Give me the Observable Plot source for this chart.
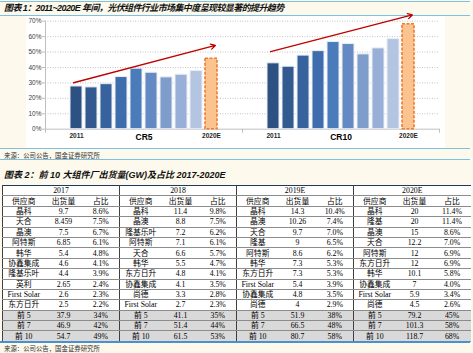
<!DOCTYPE html>
<html><head><meta charset="utf-8">
<script src="https://cdn.jsdelivr.net/npm/d3@7"></script>
<script src="https://cdn.jsdelivr.net/npm/@observablehq/plot@0.6"></script>
<style>
body{margin:0;background:#fdf9ec;}
#page{position:relative;width:473px;height:353px;overflow:hidden;background:#fdf9ec;font-family:"Liberation Sans","Noto Sans CJK SC",sans-serif;}
.rule{position:absolute;left:0;width:470px;height:1px;background:#7cc1e2;}
.title{position:absolute;left:4px;font-size:9px;line-height:10px;font-weight:bold;font-style:italic;color:#111;white-space:nowrap;}
.src{position:absolute;left:4px;font-size:6.4px;line-height:7px;color:#333;white-space:nowrap;}
#chartbg{position:absolute;left:26px;top:16px;width:419px;height:132px;background:#fff;}
#chart{position:absolute;left:0;top:16px;width:473px;height:132px;}
#yaxis{position:absolute;left:0;top:16px;width:46px;height:132px;}
table{position:absolute;left:2px;top:185px;width:468px;border-collapse:collapse;table-layout:fixed;font-family:"Liberation Serif","Noto Sans CJK SC",serif;font-size:7.8px;color:#000;background:#fff;border-top:1.5px solid #1f3a60;}
tr{height:10.4px;}
td{padding:0;line-height:9px;text-align:center;border-bottom:1px solid #8c8c8c;white-space:nowrap;overflow:hidden;}
td.gs{border-left:1px solid #404040;}
tr.sum td{background:#d9d9d9;}
</style></head>
<body><div id="page">
<div class="rule" style="top:1px"></div>
<div class="title" style="top:3px;letter-spacing:-0.6px">图表 1：2011~2020E 年间，光伏组件行业市场集中度呈现较显著的提升趋势</div>
<div class="rule" style="top:15px"></div>
<div id="chartbg"></div>
<div id="chart"></div>
<div id="yaxis"></div>
<div class="rule" style="top:148px"></div>
<div class="src" style="top:152px">来源：公司公告，国金证券研究所</div>
<div class="rule" style="top:159px"></div>
<div class="title" style="top:170px">图表 2：前 10 大组件厂出货量(GW)及占比 2017-2020E</div>
<table id="tbl"></table>
<div class="rule" style="top:341px;height:2px;background:#4a8fd0"></div>
<div class="src" style="top:345px">来源：公司公告，国金证券研究所</div>
</div>
<script>
// ---- chart data ----
const groups = ["CR5", "CR10"];
const years = ["2011","2012","2013","2014","2015","2016","2017","2018","2019","2020E"];
const cr5  = [0.277, 0.271, 0.292, 0.338, 0.392, 0.366, 0.336, 0.353, 0.377, 0.457];
const cr10 = [0.427, 0.405, 0.477, 0.506, 0.565, 0.552, 0.485, 0.524, 0.584, 0.680];
const barColors = ["#2e5183","#335a90","#37629e","#3e6dad","#4a7cbc","#6489c3","#7f9dcb","#98b0d7","#b4c5e2","#fbc38f"];
const yTicks = [0, 0.1, 0.2, 0.3, 0.4, 0.5, 0.6, 0.7];
const xLabels = ["2011", "2020E"];
const trendStart = [0.306, 0.507];
const trendEnd = [0.536, 0.734];

// ---- table data ----
const tableYears = ["2017", "2018", "2019E", "2020E"];
const tableHead = ["供应商", "出货量", "占比"];
const sup2017 = ["晶科","天合","晶澳","阿特斯","韩华","协鑫集成","隆基乐叶","英利","First Solar","东方日升"];
const vol2017 = ["9.7","8.459","7.5","6.85","5.4","4.6","4.4","2.65","2.6","2.5"];
const pct2017 = ["8.6%","7.5%","6.7%","6.1%","4.8%","4.1%","3.9%","2.4%","2.3%","2.2%"];
const sup2018 = ["晶科","晶澳","隆基乐叶","阿特斯","天合","韩华","东方日升","协鑫集成","尚德","First Solar"];
const vol2018 = ["11.4","8.8","7.2","7.1","6.6","5.5","4.8","4.1","3.3","2.7"];
const pct2018 = ["9.8%","7.5%","6.2%","6.1%","5.7%","4.7%","4.1%","3.5%","2.8%","2.3%"];
const sup2019 = ["晶科","晶澳","天合","隆基","阿特斯","韩华","东方日升","First Solar","协鑫集成","尚德"];
const vol2019 = ["14.3","10.26","9.7","9","8.6","7.3","7.3","5.4","4.8","4"];
const pct2019 = ["10.4%","7.4%","7.0%","6.5%","6.2%","5.3%","5.3%","3.9%","3.5%","2.9%"];
const sup2020 = ["晶科","隆基","晶澳","天合","阿特斯","东方日升","韩华","协鑫集成","First Solar","尚德"];
const vol2020 = ["20","20","15","12.2","12","12","10.1","7","5.9","4.5"];
const pct2020 = ["11.4%","11.4%","8.6%","7.0%","6.9%","6.9%","5.8%","4.0%","3.4%","2.6%"];
const sumLabels = ["前 5", "前 7", "前 10"];
const sumVol = [["37.9","46.9","54.7"],["41.1","51.4","61.5"],["51.9","66.5","80.7"],["79.2","101.3","118.7"]];
const sumPct = [["34%","42%","49%"],["35%","44%","53%"],["38%","48%","58%"],["45%","58%","68%"]];

// ---- chart ----
const rows = groups.flatMap((g, gi) => years.map((yr, i) => ({group: g, year: yr, value: [cr5, cr10][gi][i], color: barColors[i]})));
const trends = groups.map((g, gi) => ({group: g, y1: trendStart[gi], y2: trendEnd[gi]}));
const fmtPct = d => Math.round(d * 100) + "%";
const baseStyle = {background: "transparent", overflow: "visible", color: "#595959", fontFamily: "'Liberation Sans', Arial, sans-serif", fontSize: "6.5px"};

const chart = Plot.plot({
  width: 473, height: 132,
  marginLeft: 45, marginRight: 34, marginTop: 4.7, marginBottom: 19.3,
  style: baseStyle,
  fx: {domain: groups, padding: 0, axis: null, label: null},
  x: {domain: years, paddingInner: 0.226, paddingOuter: 1.47, axis: null},
  y: {domain: [0, 0.7], axis: null},
  color: {type: "identity"},
  marks: [
    Plot.ruleY(yTicks.slice(1), {stroke: "#c4c4c4", strokeDasharray: "1,1.5"}),
    Plot.ruleY([0], {stroke: "#bfbfbf"}),
    Plot.frame({anchor: "left", insetTop: 108, insetBottom: -3, stroke: "#bfbfbf"}),
    Plot.frame({anchor: "right", facetAnchor: "right", insetTop: 108, insetBottom: -3, stroke: "#bfbfbf"}),
    Plot.barY(rows.filter(d => d.year !== "2020E"), {fx: "group", x: "year", y: "value", fill: "color", stroke: "#e9edf4", strokeWidth: 1}),
    Plot.barY(rows.filter(d => d.year === "2020E"), {fx: "group", x: "year", y: "value", fill: "color", stroke: "#ee7d2f", strokeWidth: 1.6, strokeDasharray: "3,1.5"}),
    Plot.arrow(trends, {fx: "group", x1: () => years[0], x2: () => years[years.length - 1], y1: "y1", y2: "y2", stroke: "#c00000", strokeWidth: 1.3, headLength: 6, insetStart: -3, insetEnd: -4}),
    Plot.text(rows.filter(d => xLabels.includes(d.year)), {fx: "group", x: "year", text: "year", frameAnchor: "bottom", dy: 8.6, fill: "#262626", fontWeight: "bold", fontSize: 6.5}),
    Plot.text(groups, {fx: d => d, text: d => d, frameAnchor: "bottom", dy: 10.6, fill: "#000", fontWeight: "bold", fontSize: 8.5})
  ]
});
document.getElementById("chart").appendChild(chart);

// y axis (same y scale, no facets)
const yAxis = Plot.plot({
  width: 46, height: 132,
  marginLeft: 45, marginRight: 1, marginTop: 4.7, marginBottom: 19.3,
  style: baseStyle,
  y: {domain: [0, 0.7], axis: null},
  marks: [
    Plot.axisY(yTicks, {tickFormat: fmtPct, tickSize: 3, tickPadding: 1, stroke: "#bfbfbf", fill: "#404040", fontSize: 6.5, label: null}),
    Plot.frame({anchor: "left", stroke: "#bfbfbf"})
  ]
});
document.getElementById("yaxis").appendChild(yAxis);

// ---- table ----
const sup = [sup2017, sup2018, sup2019, sup2020];
const vol = [vol2017, vol2018, vol2019, vol2020];
const pct = [pct2017, pct2018, pct2019, pct2020];
const tbl = document.getElementById("tbl");
let html = "<colgroup>" + tableYears.map(() => '<col style="width:42px"><col style="width:38px"><col style="width:37px">').join("") + "</colgroup>";
html += "<tr>" + tableYears.map(y => `<td class="gs" colspan="3">${y}</td>`).join("") + "</tr>";
html += "<tr>" + tableYears.map(() => tableHead.map((h, j) => `<td${j === 0 ? ' class="gs"' : ''}>${h}</td>`).join("")).join("") + "</tr>";
for (let i = 0; i < sup2017.length; i++) {
  html += "<tr>" + tableYears.map((_, g) => `<td class="gs">${sup[g][i]}</td><td>${vol[g][i]}</td><td>${pct[g][i]}</td>`).join("") + "</tr>";
}
for (let k = 0; k < sumLabels.length; k++) {
  html += '<tr class="sum">' + tableYears.map((_, g) => `<td class="gs">${sumLabels[k]}</td><td>${sumVol[g][k]}</td><td>${sumPct[g][k]}</td>`).join("") + "</tr>";
}
tbl.innerHTML = html;
</script>
</body></html>
